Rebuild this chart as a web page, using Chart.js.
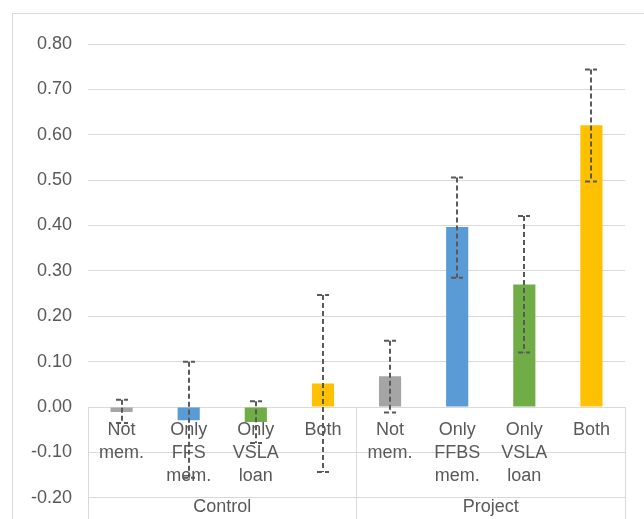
<!DOCTYPE html>
<html>
<head>
<meta charset="utf-8">
<script src="https://cdn.jsdelivr.net/npm/chart.js@4/dist/chart.umd.min.js"></script>
<style>
  html, body { margin: 0; padding: 0; background: #fff; overflow: hidden; }
  #frame { position: absolute; left: 12px; top: 13px; width: 720px; height: 620px; border: 1px solid #d9d9d9; box-sizing: border-box; }
  #c { position: absolute; left: 0; top: 0; }
</style>
</head>
<body>
<div id="frame"></div>
<canvas id="c" width="644" height="570"></canvas>
<script>
// Membership categories (multi-line axis labels) and their groups
const categories = [
  ['Not', 'mem.'], ['Only', 'FFS', 'mem.'], ['Only', 'VSLA', 'loan'], ['Both'],
  ['Not', 'mem.'], ['Only', 'FFBS', 'mem.'], ['Only', 'VSLA', 'loan'], ['Both']
];
const groups = ['Control', 'Project'];

// Estimated effects: first four = Control, last four = Project
const values    = [-0.011, -0.029, -0.033, 0.052, 0.068, 0.397, 0.270, 0.621];
// Confidence interval bounds for each bar
const errLow    = [-0.035, -0.156, -0.079, -0.143, -0.012, 0.285, 0.120, 0.497];
const errHigh   = [ 0.016,  0.100,  0.013,  0.247,  0.146, 0.506, 0.421, 0.744];

const barColors = ['#A5A5A5', '#5B9BD5', '#70AD47', '#FFC000',
                   '#A5A5A5', '#5B9BD5', '#70AD47', '#FFC000'];

const yTicksMin = -0.3, yTicksMax = 0.8, yStep = 0.1;

const TEXT = '#595959';
const GRID = '#d9d9d9';
const FONT = "'Liberation Sans', Arial, sans-serif";

Chart.defaults.font.family = FONT;
Chart.defaults.font.size = 18;
Chart.defaults.color = TEXT;

// Dashed error bars with dashed caps, drawn on top of the bars
const errorBars = {
  id: 'errorBars',
  afterDatasetsDraw(chart) {
    const ctx = chart.ctx;
    const y = chart.scales.y;
    const meta = chart.getDatasetMeta(0);
    ctx.save();
    ctx.strokeStyle = '#595959';
    ctx.lineWidth = 2;
    ctx.setLineDash([5, 3]);
    meta.data.forEach((bar, i) => {
      const x = Math.round(bar.x);
      const yHi = y.getPixelForValue(errHigh[i]);
      const yLo = y.getPixelForValue(errLow[i]);
      const cap = 6;
      ctx.beginPath();
      ctx.moveTo(x, yHi);
      ctx.lineTo(x, yLo);
      ctx.stroke();
      ctx.beginPath();
      ctx.moveTo(x - cap, yHi);
      ctx.lineTo(x + cap, yHi);
      ctx.stroke();
      ctx.beginPath();
      ctx.moveTo(x - cap, yLo);
      ctx.lineTo(x + cap, yLo);
      ctx.stroke();
    });
    ctx.restore();
  }
};

new Chart(document.getElementById('c'), {
  type: 'bar',
  data: {
    labels: categories,
    datasets: [{
      data: values,
      backgroundColor: barColors,
      borderWidth: 0,
      categoryPercentage: 1,
      barPercentage: 0.33,
      xAxisID: 'x',
      yAxisID: 'y'
    }]
  },
  options: {
    responsive: false,
    devicePixelRatio: 1,
    animation: false,
    layout: { padding: { top: 44, right: 19, bottom: 18, left: 0 } },
    plugins: { legend: { display: false }, tooltip: { enabled: false } },
    scales: {
      y: {
        min: yTicksMin,
        max: yTicksMax,
        afterFit(scale) { scale.width = 88; },
        border: { display: false },
        grid: { color: GRID, lineWidth: 1, drawTicks: false },
        ticks: {
          stepSize: yStep,
          padding: 16,
          color: TEXT,
          font: { size: 18 },
          callback: v => Number(v).toFixed(2)
        }
      },
      x: {
        type: 'category',
        position: { y: 0 },
        offset: true,
        border: { display: false },
        grid: { display: false, drawTicks: false },
        ticks: {
          padding: 12,
          color: TEXT,
          maxRotation: 0,
          autoSkip: false,
          font: { size: 18, lineHeight: 1.27 }
        }
      },
      x2: {
        type: 'category',
        labels: groups,
        position: { y: 0 },
        offset: true,
        border: { display: false },
        grid: {
          offset: true,
          drawOnChartArea: false,
          drawTicks: true,
          tickLength: 115,
          tickColor: GRID,
          lineWidth: 1
        },
        ticks: {
          padding: -26,
          color: TEXT,
          maxRotation: 0,
          font: { size: 18, lineHeight: 1.27 }
        }
      }
    }
  },
  plugins: [errorBars]
});
</script>
</body>
</html>
